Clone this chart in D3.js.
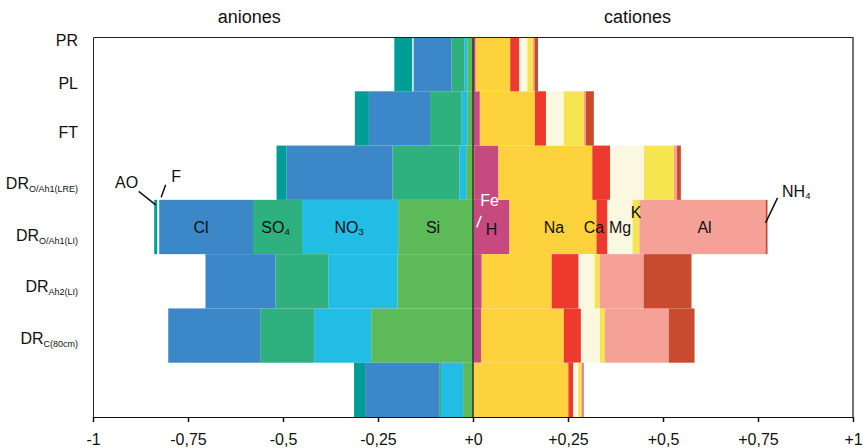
<!DOCTYPE html>
<html>
<head>
<meta charset="utf-8">
<script src="https://cdn.jsdelivr.net/npm/d3@7"></script>
<style>
    body { margin: 0; background: #fff; }
    svg text { font-family: "Liberation Sans", Arial, Helvetica, sans-serif; fill: #111; }
</style>
</head>
<body>
<div id="chart"></div>
<script>
// bars, top to bottom (the first bar carries both PR and PL labels, the last one has none)
const rows = ["PR/PL", "FT", "DR O/Ah1(LRE)", "DR O/Ah1(LI)", "DR Ah2(LI)", "DR C(80cm)", "-"];
const rowLabels = [["PR", ""], ["PL", ""], ["FT", ""], ["DR", "O/Ah1(LRE)"], ["DR", "O/Ah1(LI)"], ["DR", "Ah2(LI)"], ["DR", "C(80cm)"]];

// anions (shown to the left, negative side)
const AO  = [0.047, 0.037, 0.026, 0.008, 0,     0,     0.029];
const F   = [0.003, 0,     0,     0.005, 0,     0,     0];
const Cl  = [0.100, 0.161, 0.279, 0.247, 0.184, 0.242, 0.195];
const SO4 = [0.034, 0.082, 0.176, 0.129, 0.139, 0.142, 0.005];
const NO3 = [0.008, 0.016, 0.018, 0.253, 0.182, 0.150, 0.058];
const Si  = [0.015, 0.015, 0.018, 0.197, 0.199, 0.268, 0.026];

// cations (right side)
const Fe  = [0,     0,     0.003, 0.001, 0,     0,     0];
const H   = [0.007, 0.018, 0.064, 0.095, 0.023, 0.021, 0];
const Na  = [0.091, 0.145, 0.247, 0.229, 0.184, 0.218, 0.251];
const Ca  = [0.024, 0.029, 0.047, 0.029, 0.071, 0.045, 0.013];
const Mg  = [0.021, 0.047, 0.089, 0.066, 0.042, 0.050, 0.013];
const K   = [0.015, 0.053, 0.079, 0.018, 0.013, 0.013, 0.008];
const Al  = [0.004, 0.005, 0.008, 0.332, 0.116, 0.168, 0.003];
const NH4 = [0.009, 0.021, 0.010, 0.005, 0.126, 0.068, 0.003];

const tickValues = [-1, -0.75, -0.5, -0.25, 0, 0.25, 0.5, 0.75, 1];

class IonBalance {
    constructor(_config) {
        this.config = {
            parentElement: _config.parentElement,
            width: 863,
            height: 448,
            margin: { top: 37, right: 10, bottom: 31, left: 93 }
        };
        this.initVis();
    }

    initVis() {
        const vis = this;
        vis.width = vis.config.width - vis.config.margin.left - vis.config.margin.right;
        vis.height = vis.config.height - vis.config.margin.top - vis.config.margin.bottom;

        vis.svg = d3.select(vis.config.parentElement)
            .append("svg")
            .attr("width", vis.config.width)
            .attr("height", vis.config.height)
            .append("g")
            .attr("transform", `translate(${vis.config.margin.left},${vis.config.margin.top})`);

        vis.xScale = d3.scaleLinear().domain([-1, 1]).range([0, vis.width]);
        vis.yScale = d3.scaleBand().domain(rows).range([0, vis.height]).padding(0);

        vis.colors = {
            AO: "#009c96", F: "#ffffff", Cl: "#3b87c7", SO4: "#2fb07f", NO3: "#21bde5", Si: "#5dba59",
            Fe: "#f7941d", H: "#c64a80", Na: "#fed23c", Ca: "#ee392f", Mg: "#fbf8e1", K: "#f6e54e",
            Al: "#f5a197", NH4: "#c84a2f"
        };

        vis.anionKeys = ["Si", "NO3", "SO4", "Cl", "F", "AO"];
        vis.cationKeys = ["Fe", "H", "Na", "Ca", "Mg", "K", "Al", "NH4"];
        const series = { AO, F, Cl, SO4, NO3, Si, Fe, H, Na, Ca, Mg, K, Al, NH4 };
        vis.data = rows.map((r, i) => {
            const o = { row: r };
            Object.keys(series).forEach(k => o[k] = series[k][i]);
            return o;
        });

        vis.updateVis();
    }

    updateVis() {
        const vis = this;
        const x = vis.xScale, y = vis.yScale;

        // anions: stacked outward from 0 to the left
        const anions = d3.stack().keys(vis.anionKeys)(vis.data);
        vis.svg.append("g").selectAll("g")
            .data(anions)
            .join("g")
            .attr("fill", s => vis.colors[s.key])
            .selectAll("rect")
            .data(s => s)
            .join("rect")
            .attr("x", d => x(-d[1]))
            .attr("width", d => x(-d[0]) - x(-d[1]))
            .attr("y", d => y(d.data.row))
            .attr("height", y.bandwidth());

        // cations: stacked from 0 to the right
        const cations = d3.stack().keys(vis.cationKeys)(vis.data);
        vis.svg.append("g").selectAll("g")
            .data(cations)
            .join("g")
            .attr("fill", s => vis.colors[s.key])
            .selectAll("rect")
            .data(s => s)
            .join("rect")
            .attr("x", d => x(d[0]))
            .attr("width", d => x(d[1]) - x(d[0]))
            .attr("y", d => y(d.data.row))
            .attr("height", y.bandwidth());

        // frame
        vis.svg.append("path")
            .attr("fill", "none")
            .attr("stroke", "#222")
            .attr("stroke-width", 1)
            .attr("d", `M0.5,${vis.height}V0.5H${vis.width}`);
        vis.svg.append("line")
            .attr("x1", vis.width).attr("x2", vis.width)
            .attr("y1", 0).attr("y2", vis.height)
            .attr("stroke", "#444").attr("stroke-width", 1.5);

        // zero line
        vis.svg.append("line")
            .attr("x1", x(0)).attr("x2", x(0))
            .attr("y1", 0).attr("y2", vis.height)
            .attr("stroke", "#333").attr("stroke-width", 1.5);

        // x axis
        const fmt = d => (d < 0 ? "-" : "+") + String(Math.abs(d)).replace(".", ",");
        const xAxisG = vis.svg.append("g")
            .attr("transform", `translate(0,${vis.height})`)
            .call(d3.axisBottom(x).tickValues(tickValues).tickFormat(fmt).tickSize(5).tickSizeOuter(0));
        xAxisG.select(".domain").attr("stroke", "#111").attr("stroke-width", 1.2);
        xAxisG.selectAll(".tick line").attr("stroke", "#111").attr("stroke-width", 1.5);
        xAxisG.selectAll(".tick text")
            .attr("y", 17)
            .attr("font-size", 16)
            .style("fill", "#111")
            .style("font-family", '"Liberation Sans", Arial, sans-serif');

        // titles
        vis.svg.append("text")
            .attr("x", x(-0.589)).attr("y", -14)
            .attr("text-anchor", "middle").attr("font-size", 18)
            .text("aniones");
        vis.svg.append("text")
            .attr("x", x(0.433)).attr("y", -14)
            .attr("text-anchor", "middle").attr("font-size", 18)
            .text("cationes");

        // row labels (baseline as a fraction of the bar band they sit in)
        const labelPos = [[0, 0.17], [0, 0.965], [1, 0.86], [2, 0.8], [3, 0.755], [4, 0.69], [5, 0.65]];
        rowLabels.forEach((l, i) => {
            const [bar, f] = labelPos[i];
            const t = vis.svg.append("text")
                .attr("x", -15)
                .attr("y", y(rows[bar]) + f * y.bandwidth())
                .attr("text-anchor", "end")
                .attr("font-size", 16)
                .text(l[0]);
            if (l[1]) {
                t.append("tspan")
                    .attr("font-size", 9)
                    .attr("dy", 3)
                    .text(l[1]);
            }
        });

        // segment labels on the DR O/Ah1(LI) bar
        const bar = 3;
        const top = y(rows[bar]);
        const mid = top + y.bandwidth() / 2;
        const segCenter = key => {
            const s = anions.find(a => a.key === key) || cations.find(c => c.key === key);
            const d = s[bar];
            const sign = vis.anionKeys.includes(key) ? -1 : 1;
            return (x(sign * d[0]) + x(sign * d[1])) / 2;
        };

        const inside = [
            { key: "Cl", text: "Cl", dx: -5 },
            { key: "SO4", text: "SO", sub: "4", dx: -2 },
            { key: "NO3", text: "NO", sub: "3", dx: -1 },
            { key: "Si", text: "Si", dx: -2.5 },
            { key: "H", text: "H", dx: 0, dy: 2 },
            { key: "Na", text: "Na", dx: 1 },
            { key: "Ca", text: "Ca", dx: -8 },
            { key: "Mg", text: "Mg", dx: 0 },
            { key: "Al", text: "Al", dx: 2 }
        ];
        inside.forEach(l => {
            const t = vis.svg.append("text")
                .attr("x", segCenter(l.key) + l.dx)
                .attr("y", mid + 6 + (l.dy || 0))
                .attr("text-anchor", "middle")
                .attr("font-size", 16)
                .text(l.text);
            if (l.sub) t.append("tspan").attr("font-size", 9.5).attr("dy", 2).text(l.sub);
        });

        // K above its thin segment
        vis.svg.append("text")
            .attr("x", segCenter("K")).attr("y", top + 18)
            .attr("text-anchor", "middle").attr("font-size", 16)
            .text("K");

        // labels with leader lines
        const leader = (key, x1, y1, x2, y2, color) => {
            const c = segCenter(key);
            vis.svg.append("line")
                .attr("x1", c + x1).attr("y1", top + y1)
                .attr("x2", c + x2).attr("y2", top + y2)
                .attr("stroke", color).attr("stroke-width", 1.5);
        };
        leader("AO", 0, 5, -17, -8.5, "#111");
        vis.svg.append("text")
            .attr("x", segCenter("AO") - 17.5).attr("y", top - 12)
            .attr("text-anchor", "end").attr("font-size", 16).text("AO");

        leader("F", 3, -2.5, 7.5, -15, "#111");
        vis.svg.append("text")
            .attr("x", segCenter("F") + 13).attr("y", top - 17.5)
            .attr("font-size", 16).text("F");

        leader("Fe", 3.5, 27.5, 8, 16, "#fff");
        vis.svg.append("text")
            .attr("x", segCenter("Fe") + 7).attr("y", top + 6.5)
            .attr("font-size", 16).style("fill", "#fff").text("Fe");

        leader("NH4", -1, 23, 11, -2, "#111");
        vis.svg.append("text")
            .attr("x", segCenter("NH4") + 15.5).attr("y", top - 3)
            .attr("font-size", 16).text("NH")
            .append("tspan").attr("font-size", 9.5).attr("dy", 2).text("4");
    }
}

new IonBalance({ parentElement: "#chart" });
</script>
</body>
</html>
